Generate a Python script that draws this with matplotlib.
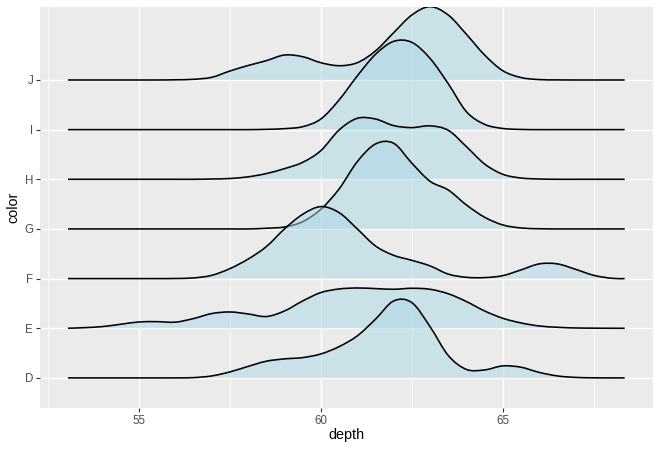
import numpy as np
import matplotlib
matplotlib.use("Agg")
import matplotlib.pyplot as plt
from matplotlib.path import Path
from matplotlib.patches import PathPatch

plt.rcParams['font.family'] = ['Liberation Sans', 'DejaVu Sans']

# ---- data (ridge heights in units of row spacing) ----
categories = ['D', 'E', 'F', 'G', 'H', 'I', 'J']
depth = [53.05, 53.5, 54.0, 54.5, 55.0, 55.5, 56.0, 56.5, 57.0, 57.5, 58.0,
         58.5, 59.0, 59.5, 60.0, 60.5, 61.0, 61.5, 62.0, 62.5, 63.0, 63.5,
         64.0, 64.5, 65.0, 65.5, 66.0, 66.5, 67.0, 67.5, 68.0, 68.35]

h_D = [0, 0, 0, 0, 0, 0, 0, 0.006, 0.040, 0.121, 0.232,
       0.336, 0.383, 0.409, 0.483, 0.630, 0.846, 1.182, 1.550, 1.516, 1.033, 0.453,
       0.171, 0.161, 0.242, 0.215, 0.111, 0.040, 0.010, 0.002, 0, 0]
h_E = [0, 0.012, 0.034, 0.081, 0.127, 0.133, 0.123, 0.195, 0.296, 0.328, 0.288,
       0.236, 0.348, 0.550, 0.719, 0.791, 0.811, 0.799, 0.785, 0.805, 0.785, 0.695,
       0.538, 0.348, 0.201, 0.107, 0.046, 0.020, 0.006, 0.002, 0, 0]
h_F = [0, 0, 0, 0, 0, 0, 0.002, 0.014, 0.066, 0.201, 0.393,
       0.644, 1.001, 1.295, 1.450, 1.329, 1.001, 0.658, 0.469, 0.368, 0.256, 0.091,
       0.026, 0.020, 0.060, 0.175, 0.296, 0.296, 0.187, 0.066, 0.006, 0]
h_G = [0, 0, 0, 0, 0, 0, 0, 0, 0, 0, 0,
       0.014, 0.040, 0.147, 0.397, 0.805, 1.355, 1.711, 1.725, 1.325, 0.960, 0.785,
       0.483, 0.236, 0.081, 0.020, 0.004, 0, 0, 0, 0, 0]
h_H = [0, 0, 0, 0, 0, 0, 0, 0, 0.006, 0.016, 0.050,
       0.115, 0.215, 0.342, 0.578, 0.993, 1.228, 1.214, 1.081, 1.041, 1.077, 0.987,
       0.658, 0.308, 0.101, 0.026, 0.006, 0, 0, 0, 0, 0]
h_I = [0, 0, 0, 0, 0, 0, 0, 0, 0, 0, 0,
       0.006, 0.020, 0.060, 0.215, 0.598, 1.081, 1.516, 1.778, 1.758, 1.435, 0.926,
       0.362, 0.107, 0.024, 0.004, 0, 0, 0, 0, 0, 0]
h_J = [0, 0, 0, 0, 0, 0, 0.004, 0.014, 0.054, 0.181, 0.292,
       0.389, 0.503, 0.469, 0.348, 0.288, 0.348, 0.584, 0.952, 1.309, 1.476, 1.309,
       0.920, 0.503, 0.187, 0.050, 0.008, 0.002, 0, 0, 0, 0]

x_major = [55, 60, 65]
x_minor = [52.5, 57.5, 62.5, 67.5]

heights = {'D': h_D, 'E': h_E, 'F': h_F, 'G': h_G, 'H': h_H, 'I': h_I, 'J': h_J}


def smooth_verts(x, y):
    pts = np.column_stack([x, y]).astype(float)
    ext = np.vstack([pts[0], pts, pts[-1]])
    verts = [pts[0]]
    codes = [Path.MOVETO]
    for i in range(len(pts) - 1):
        p0, p1, p2, p3 = ext[i], ext[i + 1], ext[i + 2], ext[i + 3]
        c1 = p1 + (p2 - p0) / 6.0
        c2 = p2 - (p3 - p1) / 6.0
        verts += [c1, c2, p2]
        codes += [Path.CURVE4] * 3
    return verts, codes


fig = plt.figure(figsize=(6.6, 4.5), dpi=100)
fig.patch.set_facecolor('white')
ax = fig.add_axes([40 / 660, 1 - 407.7 / 450, (652.7 - 40) / 660, (407.7 - 6.7) / 450])
ax.set_facecolor('#EBEBEB')
for s in ax.spines.values():
    s.set_visible(False)

ax.set_xlim(52.28, 69.12)
ax.set_ylim(0.40, 8.476)

ax.set_xticks(x_major)
ax.set_xticks(x_minor, minor=True)
ax.set_yticks(range(1, len(categories) + 1))
ax.set_yticklabels(categories)
ax.grid(which='major', color='white', linewidth=1.05, zorder=0)
ax.grid(which='minor', axis='x', color='white', linewidth=0.55, zorder=0)
ax.set_axisbelow(True)
ax.tick_params(axis='both', which='major', length=2.6, width=0.8, color='#333333',
               labelcolor='#4D4D4D', labelsize=8.3)
ax.tick_params(axis='x', which='major', pad=2.6)
ax.tick_params(axis='y', which='major', pad=2.4)
ax.tick_params(which='minor', length=0)

# draw from top (J) to bottom (D) so lower ridges overlay upper ones
for k, cat in enumerate(reversed(categories)):
    base = categories.index(cat) + 1
    y = np.array(heights[cat]) + base
    verts, codes = smooth_verts(depth, y)
    fverts = verts + [(depth[-1], base), (depth[0], base), (depth[0], base)]
    fcodes = codes + [Path.LINETO, Path.LINETO, Path.CLOSEPOLY]
    ax.add_patch(PathPatch(Path(fverts, fcodes), facecolor='lightblue', alpha=0.5,
                           edgecolor='none', zorder=2 + 2 * k))
    ax.add_patch(PathPatch(Path(verts, codes), facecolor='none', edgecolor='black',
                           linewidth=1.15, zorder=3 + 2 * k, capstyle='butt'))

fig.text(346 / 660, 1 - 435 / 450, 'depth', ha='center', va='center',
         fontsize=10.4, color='black')
fig.text(13 / 660, 1 - 207 / 450, 'color', ha='center', va='center',
         rotation=90, fontsize=10.4, color='black')

fig.savefig('out.png', dpi=100)
